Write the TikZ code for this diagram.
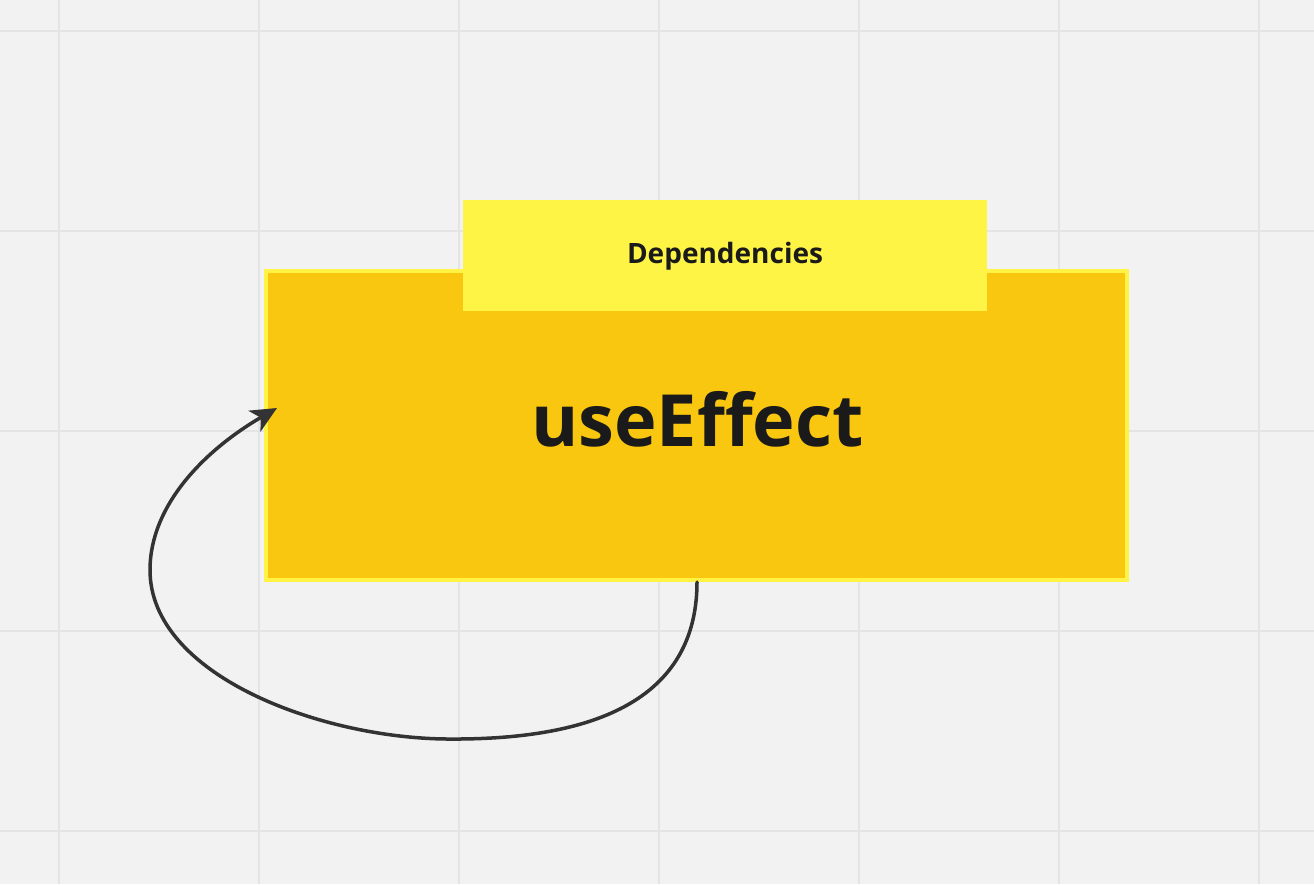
\documentclass[tikz,border=0pt]{standalone}
\usepackage{fontspec}
\setmainfont{Open Sans}
\usetikzlibrary{arrows.meta}
\definecolor{bg}{HTML}{F2F2F2}
\definecolor{gridc}{HTML}{E4E4E4}
\definecolor{mainfill}{HTML}{FAC710}
\definecolor{mainborder}{HTML}{FFF445}
\definecolor{depfill}{HTML}{FEF445}
\definecolor{ink}{HTML}{1A1A1A}
\definecolor{arrowc}{HTML}{333333}
\tikzset{
  mainbox/.style={draw=mainborder, fill=mainfill, line width=4pt, minimum width=861pt, minimum height=309pt, inner sep=0pt, outer sep=0pt},
  depbox/.style={fill=depfill, minimum width=524pt, minimum height=111pt, inner sep=0pt},
  conn/.style={draw=arrowc, line width=3.5pt, -{Stealth[length=26pt,width=24pt,inset=7pt]}, line cap=round},
}
\begin{document}
\begin{tikzpicture}[x=1pt,y=-1pt]
\fill[bg] (0,0) rectangle (1314,884);
\useasboundingbox (0,0) rectangle (1314,884);
\foreach \x in {59,259,...,1259} \draw[gridc, line width=2pt] (\x,0) -- (\x,884);
\foreach \y in {31,231,...,831} \draw[gridc, line width=2pt] (0,\y) -- (1314,\y);
\node[mainbox] (main) at (696.5,425.5) {};
\node[depbox] (dep) at (725,255.5) {};
\node[anchor=base, text=ink, font=\fontsize{72}{72}\selectfont\bfseries] (title) at (697.5,446) {useEffect};
\node[anchor=base, text=ink, font=\fontsize{28}{28}\selectfont\bfseries] (deplabel) at (725,263) {Dependencies};
\coordinate (start) at ([xshift=0.5pt,yshift=-2pt]main.south);
\coordinate (endpt) at (277,408);
\draw[conn] (start) .. controls (697,715) and (565,740) .. (447,739)
  .. controls (320,738) and (150,675) .. (150,570)
  .. controls (150,505) and (205,450) .. (endpt);
\end{tikzpicture}
\end{document}
